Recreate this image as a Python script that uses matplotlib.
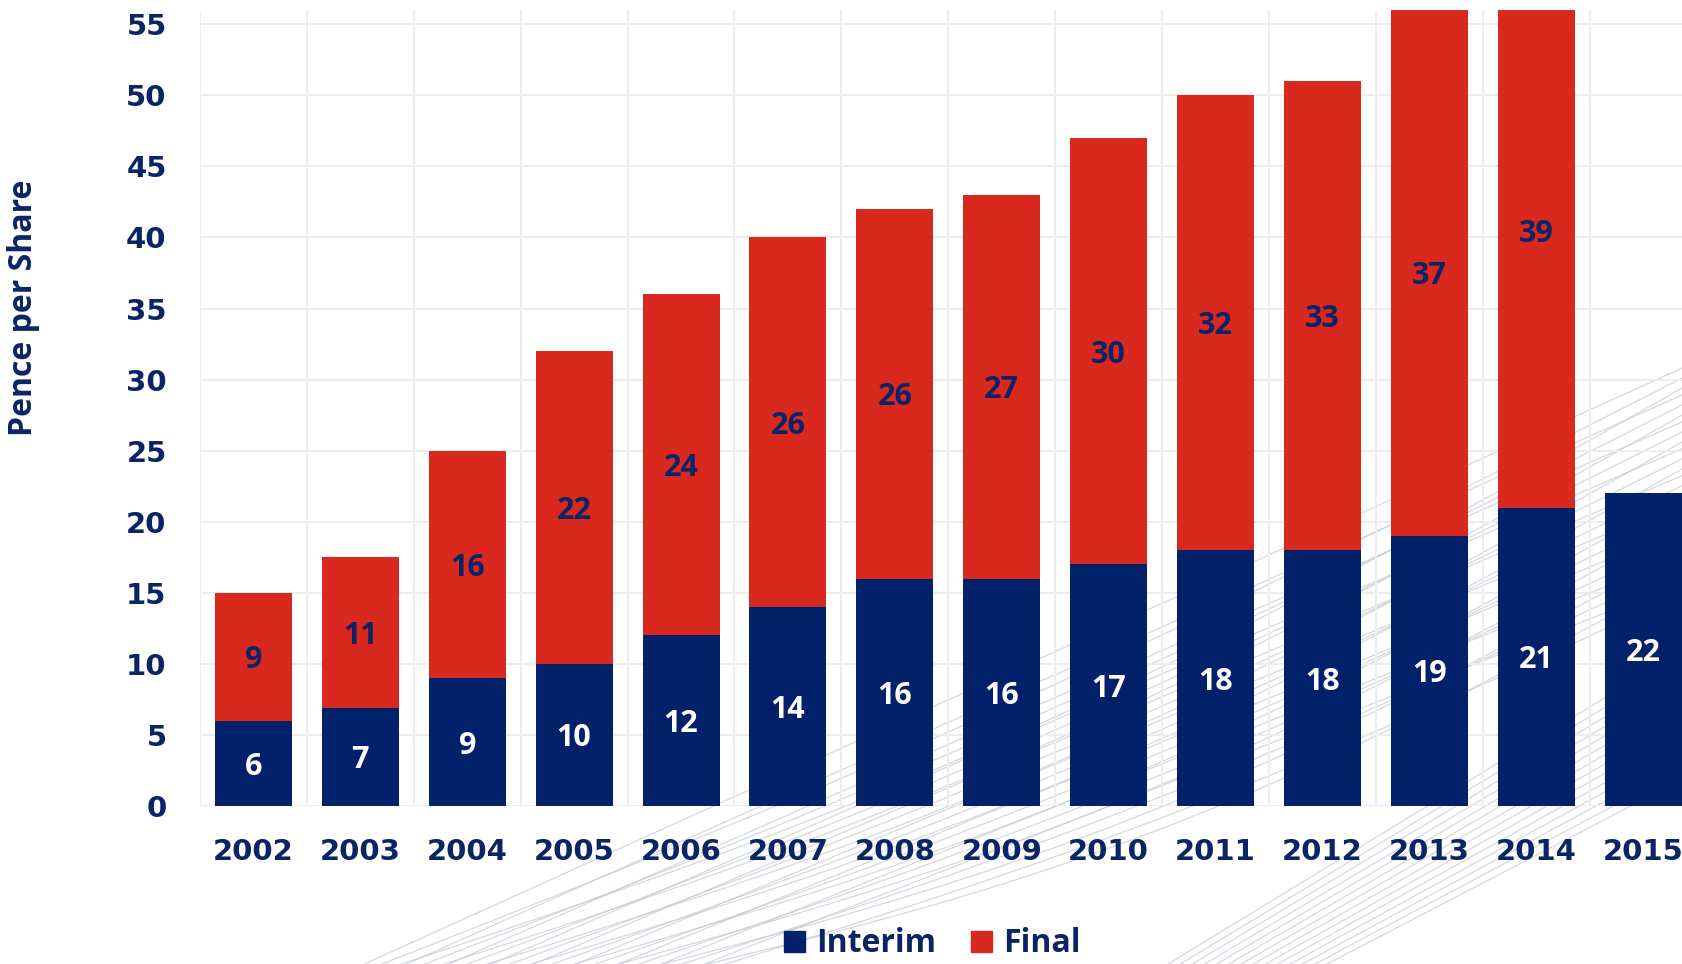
import matplotlib.pyplot as plt
import numpy as np
from matplotlib.patches import Patch

# dividend per share, pence
years = ["2002", "2003", "2004", "2005", "2006", "2007", "2008",
         "2009", "2010", "2011", "2012", "2013", "2014", "2015"]
interim = [6, 6.9, 9, 10, 12, 14, 16, 16, 17, 18, 18, 19, 21, 22]
final = [9, 10.6, 16, 22, 24, 26, 26, 27, 30, 32, 33, 37, 39, np.nan]
y_ticks = list(range(0, 60, 5))

NAVY = "#02216A"
RED = "#D9281E"
TEXT = "#0B2466"
GRID = "#EDEDED"

fig = plt.figure(figsize=(16.83, 9.64), dpi=100)
fig.patch.set_facecolor("white")

# faint swoosh lines in the background
bg = fig.add_axes([0, 0, 1, 1], zorder=0)
bg.axis("off")
bg.set_xlim(0, 1683)
bg.set_ylim(964, 0)
t = np.linspace(0, 1, 60)
for k in range(26):
    x0 = 340 + k * 14
    y1 = 360 + k * 9
    xs = x0 + (1700 - x0) * t
    ys = 975 + (y1 - 975) * t + 25 * np.sin(np.pi * t) * (k % 3)
    bg.plot(xs, ys, color="#C4C8D4", lw=0.9, alpha=0.7)
for k in range(14):
    x0 = 1150 + k * 12
    y1 = 640 + k * 10
    xs = x0 + (1700 - x0) * t
    ys = 975 + (y1 - 975) * t
    bg.plot(xs, ys, color="#C4C8D4", lw=0.9, alpha=0.7)

ax = fig.add_axes([0.1188, 0.1639, 0.8893, 0.8257], zorder=1)
ax.patch.set_alpha(0)

x = np.arange(len(years))
width = 0.72
ax.bar(x, interim, width, color=NAVY, label="Interim", zorder=3)
ax.bar(x, final, width, bottom=interim, color=RED, label="Final", zorder=3)

ax.set_xlim(-0.5, len(years) - 0.5)
ax.set_ylim(0, 56)

# value labels inside the segments
for i in range(len(years)):
    ax.text(x[i], interim[i] / 2, f"{interim[i]:.0f}", ha="center",
            va="center_baseline", color="white", fontsize=22, fontweight="bold",
            family="Open Sans", zorder=4)
    if not np.isnan(final[i]):
        ax.text(x[i], interim[i] + final[i] / 2, f"{final[i]:.0f}", ha="center",
                va="center_baseline", color=TEXT, fontsize=22, fontweight="bold",
                family="Open Sans", zorder=4)

ax.set_yticks(y_ticks)
ax.set_xticks(x)
ax.set_xticklabels(years)
ax.set_xticks(np.arange(-0.5, len(years)), minor=True)
ax.tick_params(axis="both", which="both", length=0)
ax.tick_params(axis="y", pad=24)
ax.tick_params(axis="x", pad=23)
for lab in ax.get_xticklabels() + ax.get_yticklabels():
    lab.set_fontsize(21)
    lab.set_fontweight("bold")
    lab.set_color(TEXT)

ax.grid(axis="y", which="major", color=GRID, lw=1.5, zorder=0)
ax.grid(axis="x", which="minor", color=GRID, lw=1.5, zorder=0)
ax.grid(axis="x", which="major", visible=False)
for s in ax.spines.values():
    s.set_visible(False)

fig.text(24 / 1683, 1 - 308 / 964, "Pence per Share", rotation=90, ha="center",
         va="center", fontsize=23, fontweight="bold", family="Open Sans", color=TEXT)

handles = [Patch(color=NAVY, label="Interim"), Patch(color=RED, label="Final")]
fig.legend(handles=handles, loc="center", bbox_to_anchor=(0.554, 1 - 944 / 964),
           ncol=2, frameon=False, handlelength=0.65, handleheight=0.65,
           handletextpad=0.35, columnspacing=1.1,
           prop={"family": "Open Sans", "weight": "bold", "size": 23},
           labelcolor=TEXT)

fig.savefig("out.png", dpi=100)
